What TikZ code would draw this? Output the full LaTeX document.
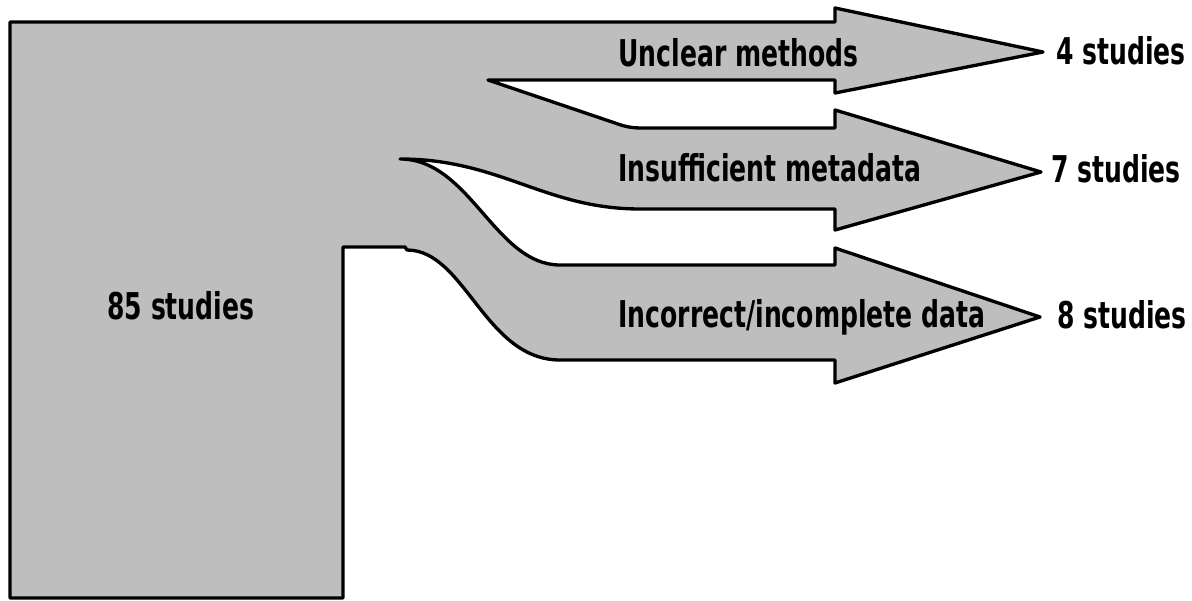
\documentclass[tikz,border=0pt]{standalone}
\usepackage{fontspec}
\newfontfamily\studyfont{DejaVu Sans}[FakeStretch=0.68]
\usepackage{xcolor}
\usetikzlibrary{calc}
\definecolor{flowgray}{RGB}{190,190,190}
\tikzset{
  flow/.style={fill=flowgray, draw=black, line width=1.9pt, line join=round},
  count/.style={anchor=base west, inner sep=0pt, font=\studyfont\bfseries\fontsize{21}{25}\selectfont}
}

\begin{document}
\begin{tikzpicture}[x=0.02cm, y=-0.02cm]
\useasboundingbox (0,0) rectangle (1192,601);
% tips of the three arrows
\coordinate (T1) at (1043,52) {};
\coordinate (T2) at (1041,172) {};
\coordinate (T3) at (1040,317) {};
\draw[flow] (10,22) -- (835,22) -- (835,8) -- (T1) -- (835,93) -- (835,80) -- (488,80)
    -- (615,123) .. controls (626,127) and (632,128) .. (642,128) -- (835,128)
    -- (835,110) -- (T2) -- (835,230) -- (835,209) -- (640,209)
    .. controls (545,209) and (500,159) .. (400,159)
    .. controls (470,159) and (495,265) .. (560,265) -- (835,265)
    -- (835,248) -- (T3) -- (835,383) -- (835,360) -- (560,360)
    .. controls (485,360) and (465,250) .. (407,250) -- (405,247) -- (343,247)
    -- (343,598) -- (10,598) -- cycle;
\node[count] (total) at (107,319) {85 studies};
\foreach \i/\y/\why/\n/\x/\ny in {1/67/Unclear methods/4/1056/65, 2/181/Insufficient metadata/7/1051/183, 3/327/Incorrect\slash incomplete data/8/1057/328} {
    \node[count] (why\i) at (618,\y) {\why};
    \node[count] (n\i) at (\x,\ny) {\n\ studies};
}
\end{tikzpicture}
\end{document}
